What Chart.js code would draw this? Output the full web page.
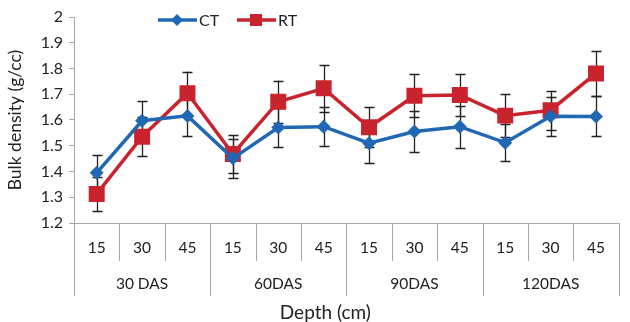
<!DOCTYPE html>
<html>
<head>
<meta charset="utf-8">
<script src="https://cdn.jsdelivr.net/npm/chart.js@4"></script>
<style>
  html, body { margin: 0; padding: 0; background: #fff; }
  #wrap { width: 630px; height: 322px; position: relative; }
</style>
</head>
<body>
<div id="wrap"><canvas id="c" width="630" height="322"></canvas></div>
<script>
const depths = ['15', '30', '45'];
const groups = ['30 DAS', '60DAS', '90DAS', '120DAS'];
const ctValues = [1.395, 1.597, 1.616, 1.451, 1.571, 1.574, 1.510, 1.555, 1.574, 1.512, 1.615, 1.614];
const rtValues = [1.313, 1.535, 1.704, 1.468, 1.671, 1.723, 1.572, 1.694, 1.697, 1.617, 1.638, 1.781];
const ctErrors = [0.068, 0.077, 0.078, 0.075, 0.077, 0.075, 0.078, 0.080, 0.082, 0.071, 0.076, 0.078];
const rtErrors = [0.066, 0.075, 0.084, 0.075, 0.082, 0.090, 0.077, 0.083, 0.082, 0.084, 0.076, 0.087];
const yTicks = [1.2, 1.3, 1.4, 1.5, 1.6, 1.7, 1.8, 1.9, 2];
const xTitle = 'Depth (cm)';
const yTitle = 'Bulk density (g/cc)';

const categories = [];
groups.forEach(g => depths.forEach(d => categories.push(g + ' ' + d)));

const CT_COLOR = '#2068b4';
const RT_COLOR = '#c9232e';
const AXIS_COLOR = '#a8a8a8';
const TEXT_COLOR = '#222';
const FONT = 'Lato, "Open Sans", sans-serif';

const errorBars = {
  id: 'errorBars',
  beforeDatasetsDraw(chart) {
    const ctx = chart.ctx;
    const xs = chart.scales.x, ys = chart.scales.y;
    const sets = [[ctValues, ctErrors], [rtValues, rtErrors]];
    ctx.save();
    ctx.strokeStyle = '#222';
    ctx.lineWidth = 1.3;
    sets.forEach(([vals, errs]) => {
      vals.forEach((v, i) => {
        const x = Math.round(xs.getPixelForValue(i)) + 0.5;
        const yt = ys.getPixelForValue(v + errs[i]);
        const yb = ys.getPixelForValue(v - errs[i]);
        ctx.beginPath();
        ctx.moveTo(x, yt); ctx.lineTo(x, yb);
        ctx.moveTo(x - 5, Math.round(yt) + 0.5); ctx.lineTo(x + 5, Math.round(yt) + 0.5);
        ctx.moveTo(x - 5, Math.round(yb) + 0.5); ctx.lineTo(x + 5, Math.round(yb) + 0.5);
        ctx.stroke();
      });
    });
    ctx.restore();
  }
};

const xAxisDraw = {
  id: 'xAxisDraw',
  afterDraw(chart) {
    const ctx = chart.ctx;
    const xs = chart.scales.x;
    const area = chart.chartArea;
    const n = categories.length;
    const step = xs.getPixelForValue(1) - xs.getPixelForValue(0);
    const yAxis = area.bottom;
    ctx.save();
    ctx.strokeStyle = AXIS_COLOR;
    ctx.lineWidth = 1;
    ctx.beginPath();
    ctx.moveTo(area.left, yAxis + 0.5);
    ctx.lineTo(area.right, yAxis + 0.5);
    for (let i = 0; i <= n; i++) {
      const bx = Math.round(xs.getPixelForValue(i) - step / 2) + 0.5;
      const isGroup = i % depths.length === 0;
      ctx.moveTo(bx, yAxis);
      ctx.lineTo(bx, yAxis + (isGroup ? 73 : 38));
    }
    ctx.stroke();
    ctx.fillStyle = TEXT_COLOR;
    ctx.textAlign = 'center';
    ctx.textBaseline = 'middle';
    ctx.font = '15.5px ' + FONT;
    categories.forEach((c, i) => {
      ctx.fillText(depths[i % depths.length], xs.getPixelForValue(i), yAxis + 25);
    });
    groups.forEach((g, gi) => {
      const cx = (xs.getPixelForValue(gi * 3) + xs.getPixelForValue(gi * 3 + 2)) / 2;
      ctx.fillText(g, cx, yAxis + 61);
    });
    ctx.font = '19px ' + FONT;
    ctx.fillText(xTitle, (area.left + area.right) / 2 - 21, yAxis + 90);

    // legend
    const ly = 20;
    ctx.lineWidth = 3.5;
    ctx.strokeStyle = CT_COLOR;
    ctx.beginPath(); ctx.moveTo(158, ly); ctx.lineTo(197, ly); ctx.stroke();
    ctx.fillStyle = CT_COLOR;
    ctx.beginPath();
    ctx.moveTo(177, ly - 6); ctx.lineTo(183, ly); ctx.lineTo(177, ly + 6); ctx.lineTo(171, ly);
    ctx.closePath(); ctx.fill();
    ctx.strokeStyle = RT_COLOR;
    ctx.beginPath(); ctx.moveTo(237, ly); ctx.lineTo(276, ly); ctx.stroke();
    ctx.fillStyle = RT_COLOR;
    ctx.fillRect(250, ly - 6, 12, 12);
    ctx.fillStyle = TEXT_COLOR;
    ctx.textAlign = 'left';
    ctx.font = '16px ' + FONT;
    ctx.fillText('CT', 199, ly + 1);
    ctx.fillText('RT', 278, ly + 1);
    ctx.restore();
  }
};

new Chart(document.getElementById('c'), {
  type: 'line',
  data: {
    labels: categories,
    datasets: [
      {
        label: 'CT', data: ctValues,
        borderColor: CT_COLOR, backgroundColor: CT_COLOR,
        borderWidth: 3.5, pointStyle: 'rectRot', pointRadius: 7,
        pointBorderWidth: 0, tension: 0
      },
      {
        label: 'RT', data: rtValues,
        borderColor: RT_COLOR, backgroundColor: RT_COLOR,
        borderWidth: 3.5, pointStyle: 'rect', pointRadius: 11.3,
        pointBorderWidth: 0, tension: 0
      }
    ]
  },
  options: {
    responsive: false,
    animation: false,
    layout: { padding: { top: 17, right: 1, bottom: 99, left: 0 } },
    plugins: { legend: { display: false }, tooltip: { enabled: false } },
    scales: {
      x: { type: 'category', offset: true, display: false },
      y: {
        min: 1.2, max: 2,
        afterFit(s) { s.width = 74; },
        afterBuildTicks(s) { s.ticks = yTicks.map(v => ({ value: v })); },
        ticks: {
          color: TEXT_COLOR, padding: 6,
          font: { family: FONT, size: 16 },
          callback: v => String(Math.round(v * 10) / 10)
        },
        grid: { drawOnChartArea: false, drawTicks: true, tickLength: 5, color: AXIS_COLOR },
        border: { color: AXIS_COLOR, width: 1 },
        title: {
          display: true, text: yTitle, color: TEXT_COLOR,
          font: { family: FONT, size: 17.5 }, padding: { top: 5, bottom: 0 }
        }
      }
    }
  },
  plugins: [errorBars, xAxisDraw]
});
</script>
</body>
</html>
